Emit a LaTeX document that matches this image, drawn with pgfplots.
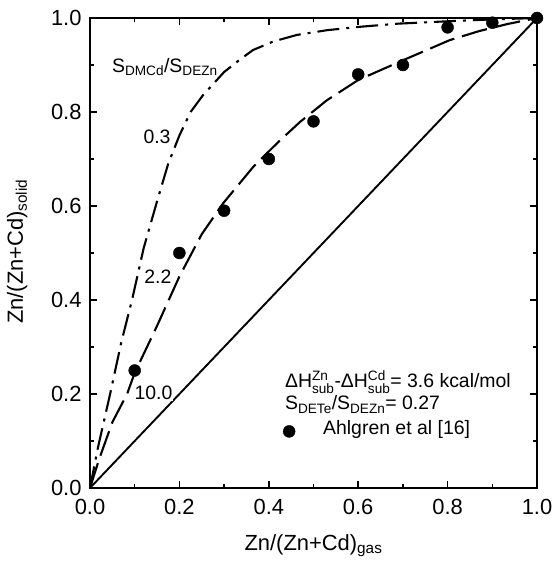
\documentclass[border=0pt]{standalone}
\usepackage{pgfplots}
\pgfplotsset{compat=1.18}
\usepackage{amsmath}
\usepackage{fontspec}
\setmainfont{Liberation Sans}
\newcommand\tickfont{\fontsize{22}{26}\selectfont}
\newcommand\notefont{\fontsize{19.5}{23}\selectfont}
\begin{document}
\begin{tikzpicture}
\begin{axis}[
  at={(0,0)}, anchor=origin,
  scale only axis,
  width=447bp, height=470bp,
  xmin=0, xmax=1, ymin=0, ymax=1,
  clip=false,
  xtick={0,0.2,0.4,0.6,0.8,1.0},
  ytick={0,0.2,0.4,0.6,0.8,1.0},
  minor tick num=1,
  tick align=inside,
  tick pos=both,
  major tick length=7bp,
  minor tick length=4bp,
  axis line style={line width=2bp},
  every tick/.style={black, line width=1.5bp},
  /pgf/number format/assume math mode=true,
  /pgf/number format/fixed,
  /pgf/number format/fixed zerofill,
  /pgf/number format/precision=1,
  ticklabel style={font=\tickfont},
  xticklabel style={yshift=-8bp},
  yticklabel style={xshift=-5bp},
  label style={font=\tickfont},
  xlabel={Zn/(Zn+Cd)\textsubscript{gas}},
  ylabel={Zn/(Zn+Cd)\textsubscript{solid}},
  xlabel style={at={(axis description cs:0.5,0)}, anchor=base, yshift=-62bp},
  ylabel style={at={(axis description cs:-0.150,0.503)}, anchor=base},
  legend style={at={(axis cs:0.425,0.103)}, anchor=south west,
    draw=none, fill=none, font=\notefont,
    nodes={inner sep=1bp}},
  legend cell align=left,
  legend image code/.code={\draw[#1] plot coordinates {(0.5cm,-3bp)};},
]
% equal-composition reference line
\addplot[black, line width=1.9bp, forget plot] coordinates {(0,0) (1,1)};

% S_DMCd/S_DEZn = 0.3 (dash-dot)
\addplot[black, line width=2.1bp, forget plot,
  dash pattern=on 22bp off 7bp on 3bp off 7bp] coordinates {
  (0,0) (0.018,0.087) (0.045,0.20) (0.07,0.31) (0.094,0.40)
  (0.12,0.51) (0.15,0.61) (0.175,0.69) (0.20,0.75) (0.225,0.80)
  (0.253,0.836) (0.30,0.885) (0.336,0.912) (0.365,0.932) (0.41,0.950)
  (0.463,0.964) (0.53,0.974) (0.6,0.981) (0.69,0.988) (0.8,0.993)
  (0.9,0.997) (1,1)};

% S_DMCd/S_DEZn = 2.2 and 10.0 (long dash)
\addplot[black, line width=2.1bp, forget plot,
  dash pattern=on 26bp off 8bp] coordinates {
  (0,0) (0.02,0.06) (0.05,0.14) (0.083,0.20) (0.10,0.245)
  (0.15,0.345) (0.2,0.45) (0.25,0.54) (0.298,0.606) (0.365,0.683)
  (0.42,0.735) (0.47,0.779) (0.53,0.825) (0.6,0.868) (0.7,0.91)
  (0.805,0.953) (0.87,0.972) (0.933,0.987) (1,1)};

% measured compositions
\addplot[only marks, mark=*, mark size=6bp, black] coordinates {
  (0.1,0.25) (0.2,0.50) (0.3,0.59) (0.4,0.70) (0.5,0.78)
  (0.6,0.88) (0.7,0.90) (0.8,0.98) (0.9,0.99) (1.0,1.0)};
\addlegendentry{\hspace{27bp}Ahlgren et al [16]}

% curve labels
\node[anchor=base west, font=\notefont, inner sep=0] at (axis cs:0.049,0.885)
  {S\textsubscript{DMCd}/S\textsubscript{DEZn}};
\node[font=\notefont, fill=white, inner sep=1bp] at (axis cs:0.150,0.747) {0.3};
\node[font=\notefont, fill=white, inner sep=1bp] at (axis cs:0.152,0.449) {2.2};
\node[font=\notefont, fill=white, inner sep=1bp] at (axis cs:0.142,0.202) {10.0};

% model parameters
\node[anchor=base west, font=\notefont, inner sep=0] at (axis cs:0.436,0.213)
  {ΔH$^{\text{Zn}}_{\text{sub}}$-ΔH$^{\text{Cd}}_{\text{sub}}$= 3.6 kcal/mol};
\node[anchor=base west, font=\notefont, inner sep=0] at (axis cs:0.436,0.166)
  {S\textsubscript{DETe}/S\textsubscript{DEZn}= 0.27};
\end{axis}
% page frame around the plot area and its labels
\pgfresetboundingbox
\path[use as bounding box] (-90bp,-83bp) rectangle (464bp,488bp);
\end{tikzpicture}
\end{document}
